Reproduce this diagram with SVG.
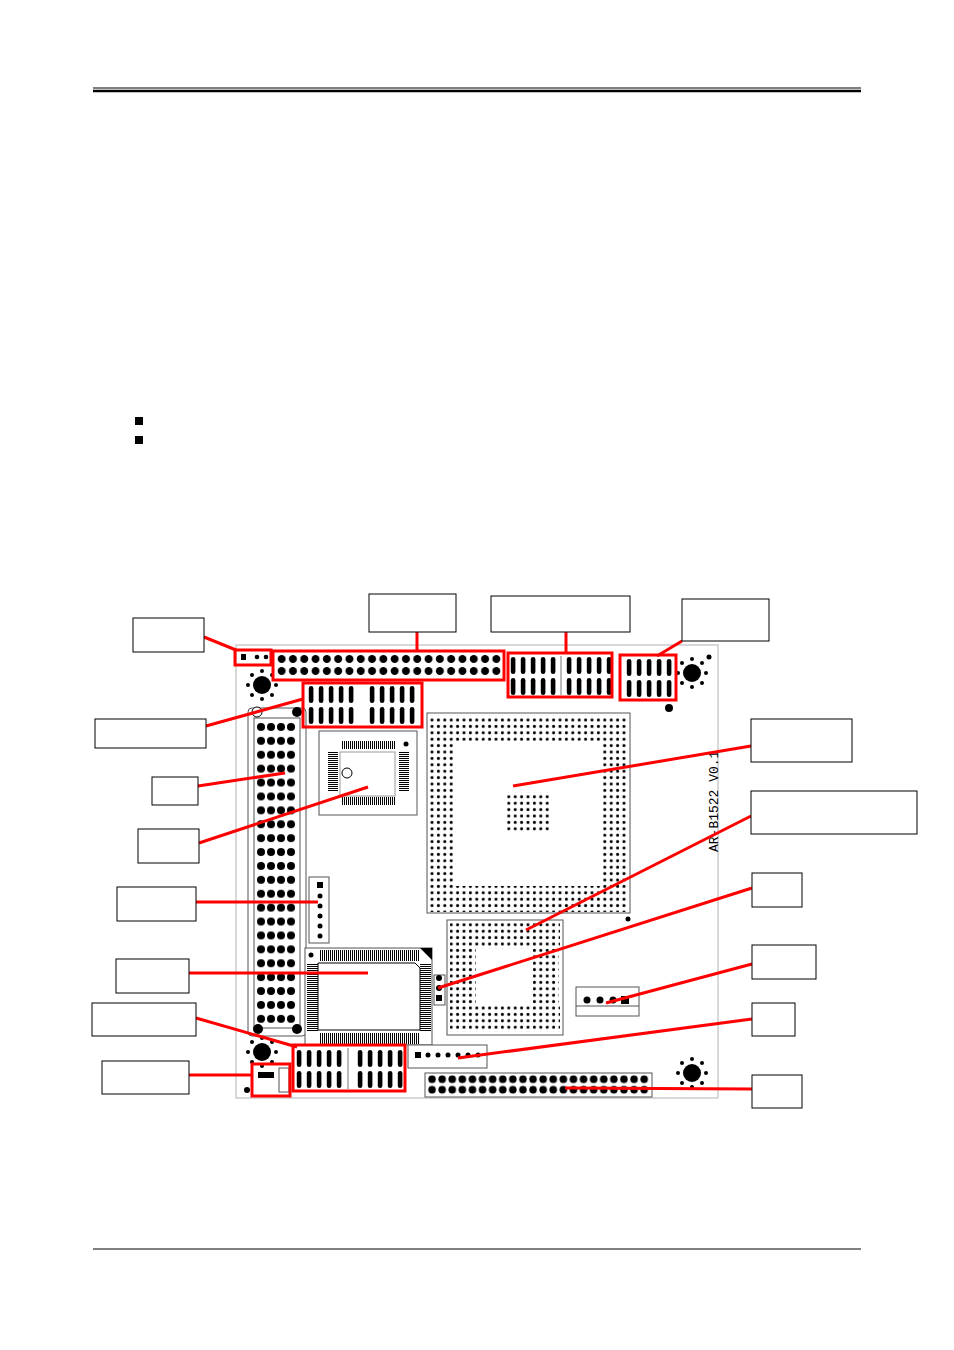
<svg xmlns="http://www.w3.org/2000/svg" width="954" height="1350" viewBox="0 0 954 1350">
<style>
.lbl{fill:#fff;stroke:#000;stroke-width:1}
.red{fill:none;stroke:#f00;stroke-width:3}
.ln{stroke:#f00;stroke-width:3;fill:none}
.out{fill:#fff;stroke:#555;stroke-width:1}
.blk{fill:#000}
</style>
<defs>
<pattern id="p2" x="276" y="653" width="11.3" height="12" patternUnits="userSpaceOnUse"><circle cx="5.65" cy="6" r="4" fill="#000"/></pattern>
<pattern id="p44" x="427" y="1074" width="10.1" height="10.5" patternUnits="userSpaceOnUse"><circle cx="5.05" cy="5.25" r="3.8" fill="#000"/></pattern>
<pattern id="pv" x="256" y="720" width="10" height="13.9" patternUnits="userSpaceOnUse"><circle cx="5" cy="6.95" r="4" fill="#000"/></pattern>
<pattern id="pb" width="6.4" height="6.4" patternUnits="userSpaceOnUse"><circle cx="3.2" cy="3.2" r="1.5" fill="#000"/></pattern>
<pattern id="pad" width="0.2" height="0.5" patternUnits="objectBoundingBox"><rect x="2.8" y="2" width="4.6" height="17" rx="2.3" fill="#000"/></pattern>
<pattern id="qh" width="2" height="10" patternUnits="userSpaceOnUse"><rect x="0" y="0" width="1" height="10" fill="#000"/></pattern>
<pattern id="qv" width="10" height="2" patternUnits="userSpaceOnUse"><rect x="0" y="0" width="10" height="1" fill="#000"/></pattern>
<g id="hole"><circle r="9" fill="#000"/><g fill="#000"><circle cx="0" cy="-14" r="2"/><circle cx="0" cy="14" r="2"/><circle cx="-14" cy="0" r="2"/><circle cx="14" cy="0" r="2"/><circle cx="10" cy="10" r="2"/><circle cx="-10" cy="10" r="2"/><circle cx="10" cy="-10" r="2"/><circle cx="-10" cy="-10" r="2"/></g></g>
</defs>
<rect width="954" height="1350" fill="#fff"/>
<g id="page">
<line x1="93" y1="88" x2="861" y2="88" stroke="#000" stroke-width="1.2"/>
<line x1="93" y1="91" x2="861" y2="91" stroke="#000" stroke-width="2.5"/>
<line x1="93" y1="1249" x2="861" y2="1249" stroke="#000" stroke-width="1"/>
<rect x="135" y="417" width="8" height="8" class="blk"/>
<rect x="135" y="436" width="8" height="8" class="blk"/>
</g>
<g id="board">
<rect x="236" y="645" width="482" height="453" fill="#fff" stroke="#ccc" stroke-width="1.5"/>
<use href="#hole" x="262" y="685"/><use href="#hole" x="692" y="673"/>
<use href="#hole" x="262" y="1052"/><use href="#hole" x="692" y="1073"/>
<circle cx="669" cy="708" r="4" class="blk"/><circle cx="709" cy="657" r="2.5" class="blk"/>
<circle cx="247" cy="1090" r="3" class="blk"/><circle cx="628" cy="919" r="2.5" class="blk"/>
<rect x="241" y="654" width="5" height="6" class="blk"/><circle cx="257" cy="657" r="2.3" class="blk"/><circle cx="266" cy="657" r="2.3" class="blk"/>
<rect x="276" y="653" width="226" height="24" fill="url(#p2)"/>
<rect x="508" y="655" width="50" height="42" fill="url(#pad)"/>
<rect x="564" y="655" width="50" height="42" fill="url(#pad)"/>
<line x1="561" y1="656" x2="561" y2="695" stroke="#777"/>
<rect x="624" y="657" width="50" height="42" fill="url(#pad)"/>
<rect x="306" y="684" width="50" height="42" fill="url(#pad)"/>
<rect x="367" y="684" width="50" height="42" fill="url(#pad)"/>
<rect x="294" y="1048" width="50" height="42" fill="url(#pad)"/>
<rect x="355" y="1048" width="50" height="42" fill="url(#pad)"/>
<line x1="348" y1="1048" x2="348" y2="1089" stroke="#777"/>
<rect x="248" y="708" width="58" height="328" rx="4" class="out"/>
<rect x="254" y="718" width="46" height="310" class="out"/>
<rect x="256" y="720" width="40" height="306" fill="url(#pv)"/>
<circle cx="257" cy="712" r="5" fill="#fff" stroke="#000"/><circle cx="297" cy="712" r="5" class="blk"/>
<circle cx="258" cy="1029" r="5" class="blk"/><circle cx="297" cy="1029" r="5" class="blk"/>
<rect x="319" y="731" width="98" height="84" class="out"/>
<rect x="340" y="752" width="55" height="44" fill="#fff" stroke="#999"/>
<rect x="341" y="741" width="55" height="8" fill="url(#qh)"/>
<rect x="341" y="797" width="55" height="8" fill="url(#qh)"/>
<rect x="328" y="752" width="10" height="40" fill="url(#qv)"/>
<rect x="399" y="752" width="10" height="40" fill="url(#qv)"/>
<circle cx="347" cy="773" r="5" fill="#fff" stroke="#000"/><circle cx="406" cy="744" r="2.5" class="blk"/>
<rect x="427" y="713" width="203" height="200" class="out"/>
<rect x="429" y="715" width="199" height="26" fill="url(#pb)"/>
<rect x="429" y="886" width="199" height="26" fill="url(#pb)"/>
<rect x="429" y="741" width="26" height="145" fill="url(#pb)"/>
<rect x="602" y="741" width="26" height="145" fill="url(#pb)"/>
<rect x="505" y="792" width="45" height="40" fill="url(#pb)"/>
<rect x="309" y="877" width="20" height="66" class="out"/>
<rect x="317" y="882" width="6" height="6" class="blk"/>
<g class="blk"><circle cx="320" cy="896" r="2.5"/><circle cx="320" cy="906" r="2.5"/><circle cx="320" cy="916" r="2.5"/><circle cx="320" cy="926" r="2.5"/><circle cx="320" cy="936" r="2.5"/></g>
<rect x="305" y="948" width="127" height="97" class="out"/>
<rect x="320" y="950" width="99" height="11" fill="url(#qh)"/>
<rect x="320" y="1033" width="99" height="11" fill="url(#qh)"/>
<rect x="307" y="963" width="11" height="68" fill="url(#qv)"/>
<rect x="420" y="963" width="11" height="68" fill="url(#qv)"/>
<path d="M318 963 H415 L420 968 V1030 H318 Z" fill="#fff" stroke="#000"/>
<path d="M420 948 H432 V960 Z" class="blk"/>
<circle cx="311" cy="955" r="2.5" class="blk"/>
<rect x="434" y="975" width="11" height="30" class="out"/>
<circle cx="439" cy="978" r="3" class="blk"/><circle cx="439" cy="988" r="3" class="blk"/><rect x="436" y="995" width="6" height="6" class="blk"/>
<rect x="447" y="920" width="116" height="115" class="out"/>
<rect x="450" y="923" width="110" height="26" fill="url(#pb)"/>
<rect x="450" y="1006" width="110" height="26" fill="url(#pb)"/>
<rect x="450" y="949" width="26" height="57" fill="url(#pb)"/>
<rect x="533" y="949" width="26" height="57" fill="url(#pb)"/>
<rect x="576" y="987" width="63" height="29" class="out"/>
<line x1="576" y1="1006" x2="639" y2="1006" stroke="#555"/>
<g class="blk"><circle cx="587" cy="1000" r="3.5"/><circle cx="600" cy="1000" r="3.5"/><circle cx="613" cy="1000" r="3.5"/><rect x="621" y="996" width="8" height="8"/></g>
<rect x="408" y="1045" width="79" height="23" class="out"/>
<rect x="415" y="1052" width="6" height="6" class="blk"/>
<g class="blk"><circle cx="428" cy="1055" r="2.5"/><circle cx="438" cy="1055" r="2.5"/><circle cx="448" cy="1055" r="2.5"/><circle cx="458" cy="1055" r="2.5"/><circle cx="468" cy="1055" r="2.5"/><circle cx="478" cy="1055" r="2.5"/></g>
<rect x="258" y="1072" width="16" height="6" class="blk"/>
<rect x="279" y="1068" width="10" height="24" class="out"/>
<rect x="425" y="1073" width="227" height="24" class="out"/>
<rect x="427" y="1074" width="222" height="21" fill="url(#p44)"/>
<text x="0" y="0" transform="translate(718,852) rotate(-90)" font-family="Liberation Mono, monospace" font-size="13">AR-B1522 V0.1</text>
</g>
<g id="highlights">
<rect x="235" y="650" width="36" height="15" class="red"/>
<rect x="273" y="651" width="231" height="29" class="red"/>
<rect x="508" y="653" width="104" height="44" class="red"/>
<rect x="620" y="655" width="56" height="45" class="red"/>
<rect x="303" y="683" width="119" height="44" class="red"/>
<rect x="293" y="1045" width="112" height="46" class="red"/>
<rect x="252" y="1064" width="38" height="32" class="red"/>
</g>
<g id="connectors">
<path class="ln" d="M204 637 L236 650"/>
<path class="ln" d="M417 632 V651"/>
<path class="ln" d="M566 632 V653"/>
<path class="ln" d="M682 641 L657 656"/>
<path class="ln" d="M206 726 L303 699"/>
<path class="ln" d="M198 786 L285 773"/>
<path class="ln" d="M199 843 L368 787"/>
<path class="ln" d="M196 902 L318 902"/>
<path class="ln" d="M189 973 L368 973"/>
<path class="ln" d="M196 1018 L297 1047"/>
<path class="ln" d="M189 1075 L252 1075"/>
<path class="ln" d="M751 746 L513 786"/>
<path class="ln" d="M751 816 L526 930"/>
<path class="ln" d="M752 888 L438 988"/>
<path class="ln" d="M752 964 L606 1003"/>
<path class="ln" d="M752 1019 L458 1058"/>
<path class="ln" d="M752 1089 L565 1088"/>
</g>
<g id="labels">
<rect id="l1" x="133" y="618" width="71" height="34" class="lbl"/>
<rect id="l2" x="369" y="594" width="87" height="38" class="lbl"/>
<rect id="l3" x="491" y="596" width="139" height="36" class="lbl"/>
<rect id="l4" x="682" y="599" width="87" height="42" class="lbl"/>
<rect id="l5" x="95" y="719" width="111" height="29" class="lbl"/>
<rect id="l6" x="152" y="777" width="46" height="28" class="lbl"/>
<rect id="l7" x="138" y="829" width="61" height="34" class="lbl"/>
<rect id="l8" x="117" y="887" width="79" height="34" class="lbl"/>
<rect id="l9" x="116" y="959" width="73" height="34" class="lbl"/>
<rect id="l10" x="92" y="1003" width="104" height="33" class="lbl"/>
<rect id="l11" x="102" y="1061" width="87" height="33" class="lbl"/>
<rect id="l12" x="751" y="719" width="101" height="43" class="lbl"/>
<rect id="l13" x="751" y="791" width="166" height="43" class="lbl"/>
<rect id="l14" x="752" y="873" width="50" height="34" class="lbl"/>
<rect id="l15" x="752" y="945" width="64" height="34" class="lbl"/>
<rect id="l16" x="752" y="1003" width="43" height="33" class="lbl"/>
<rect id="l17" x="752" y="1075" width="50" height="33" class="lbl"/>
</g>
</svg>
